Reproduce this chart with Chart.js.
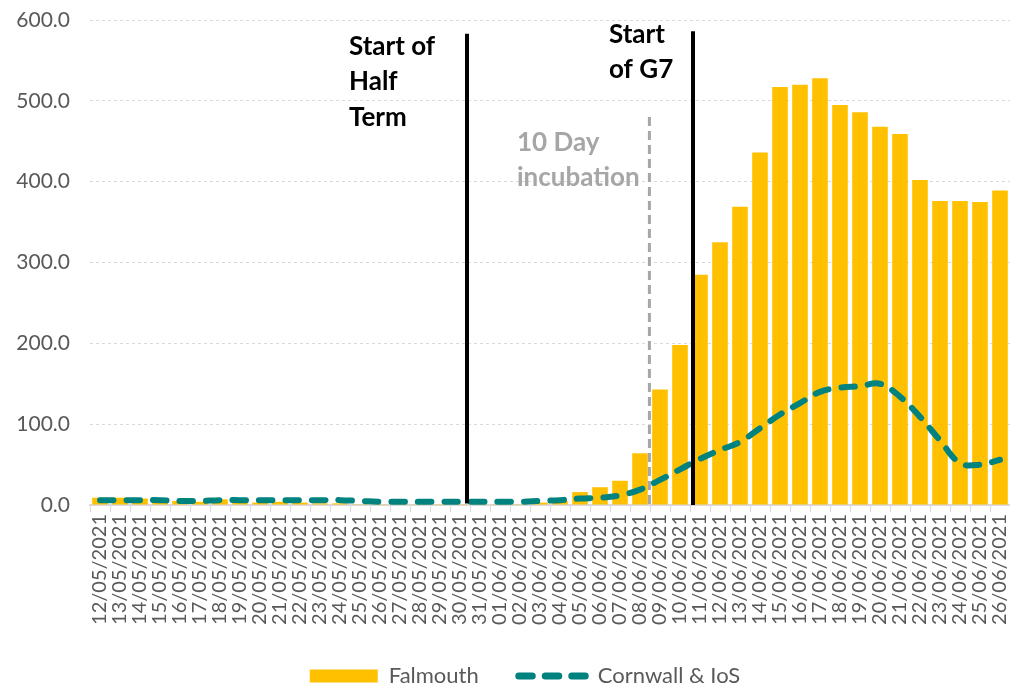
<!DOCTYPE html>
<html>
<head>
<meta charset="utf-8">
<script src="https://cdn.jsdelivr.net/npm/chart.js@4.4.1/dist/chart.umd.min.js"></script>
<style>
  html, body { margin: 0; padding: 0; background: #ffffff; }
  #wrap { width: 1010px; height: 686px; position: relative; }
</style>
</head>
<body>
<div id="wrap"><canvas id="chart"></canvas></div>
<script>
// daily dates on the x axis
const dates = [
  '12/05/2021', '13/05/2021', '14/05/2021', '15/05/2021', '16/05/2021', '17/05/2021',
  '18/05/2021', '19/05/2021', '20/05/2021', '21/05/2021', '22/05/2021', '23/05/2021',
  '24/05/2021', '25/05/2021', '26/05/2021', '27/05/2021', '28/05/2021', '29/05/2021',
  '30/05/2021', '31/05/2021', '01/06/2021', '02/06/2021', '03/06/2021', '04/06/2021',
  '05/06/2021', '06/06/2021', '07/06/2021', '08/06/2021', '09/06/2021', '10/06/2021',
  '11/06/2021', '12/06/2021', '13/06/2021', '14/06/2021', '15/06/2021', '16/06/2021',
  '17/06/2021', '18/06/2021', '19/06/2021', '20/06/2021', '21/06/2021', '22/06/2021',
  '23/06/2021', '24/06/2021', '25/06/2021', '26/06/2021'
];

// rates
const falmouth = [
  9, 9, 8, 8, 5, 4, 7, 4, 3, 4, 3, 2,
  2, 1, 1, 1, 1, 1, 1, 1, 1, 1, 3, 5,
  16, 22, 30, 64, 143, 198, 285, 325, 369, 436, 517, 520,
  528, 495, 486, 468, 459, 402, 376, 376, 375, 389
];
const cornwall = [
  6, 6, 6, 6, 5, 5, 6, 6, 6, 6, 6, 6,
  6, 5, 4, 4, 4, 4, 4, 4, 4, 4, 5, 6,
  8, 9, 12, 19, 31, 44, 57, 68, 78, 95, 112, 126,
  140, 145, 147, 150, 134, 109, 80, 52, 50, 56
];

const yTicks = [0, 100, 200, 300, 400, 500, 600];

// vertical marker lines: x as category index, top/bottom in y values
const markers = [
  { at: 18.35, top: 583, bottom: 2, color: '#000000', width: 4, dash: [] },
  { at: 29.65, top: 586, bottom: 0, color: '#000000', width: 4, dash: [] },
  { at: 27.47, top: 480, bottom: 0, color: '#a6a6a6', width: 3, dash: [9, 5] }
];
const notes = [
  { lines: ['Start of', 'Half', 'Term'], at: 12.45, value: 557, color: '#000000' },
  { lines: ['Start', 'of G7'], at: 25.45, value: 572, color: '#000000' },
  { lines: ['10 Day', 'incubation'], at: 20.85, value: 438, color: '#a6a6a6' }
];

const FONT = "Lato, 'Open Sans', sans-serif";
const TEAL = '#00827f';
const LINE_DASH = [13.5, 13];

const markerPlugin = {
  id: 'markers',
  afterLayout(chart) {
    // nudge the legend row to sit where the original has it
    if (chart.legend) {
      chart.legend.left += 20;
      chart.legend.right += 20;
    }
  },
  afterDatasetsDraw(chart) {
    const ctx = chart.ctx;
    const xs = chart.scales.x, ys = chart.scales.y;
    ctx.save();
    markers.forEach(m => {
      const x = xs.getPixelForValue(m.at);
      ctx.beginPath();
      ctx.strokeStyle = m.color;
      ctx.lineWidth = m.width;
      ctx.setLineDash(m.dash);
      ctx.moveTo(x, ys.getPixelForValue(m.top));
      ctx.lineTo(x, ys.getPixelForValue(m.bottom));
      ctx.stroke();
    });
    ctx.setLineDash([]);
    ctx.font = 'bold 26px ' + FONT;
    ctx.textBaseline = 'alphabetic';
    ctx.textAlign = 'left';
    notes.forEach(n => {
      const x = xs.getPixelForValue(n.at);
      const y = ys.getPixelForValue(n.value);
      ctx.fillStyle = n.color;
      n.lines.forEach((t, i) => ctx.fillText(t, x, y + i * 35.5));
    });
    ctx.restore();
  }
};

new Chart(document.getElementById('chart'), {
  data: {
    labels: dates,
    datasets: [
      {
        type: 'line',
        label: 'Cornwall & IoS',
        data: cornwall,
        borderColor: TEAL,
        backgroundColor: TEAL,
        borderWidth: 6,
        borderDash: LINE_DASH,
        borderCapStyle: 'round',
        tension: 0.4,
        pointRadius: 0,
        pointStyle: 'line',
        order: 1
      },
      {
        type: 'bar',
        label: 'Falmouth',
        data: falmouth,
        backgroundColor: '#ffc000',
        borderWidth: 0,
        barPercentage: 0.78,
        categoryPercentage: 1,
        pointStyle: 'rect',
        order: 2
      }
    ]
  },
  options: {
    responsive: true,
    maintainAspectRatio: false,
    animation: false,
    layout: { padding: { top: 20, right: 0, left: 0, bottom: -11 } },
    plugins: {
      tooltip: { enabled: false },
      legend: {
        position: 'bottom',
        reverse: true,
        labels: {
          usePointStyle: true,
          pointStyleWidth: 68,
          boxHeight: 13,
          padding: 40,
          color: '#595959',
          font: { family: FONT, size: 22 },
          generateLabels(chart) {
            const items = Chart.defaults.plugins.legend.labels.generateLabels(chart);
            items.forEach(it => {
              if (chart.data.datasets[it.datasetIndex].type === 'line') {
                it.lineDash = LINE_DASH;
                it.lineCap = 'round';
                it.lineWidth = 7;
                it.strokeStyle = TEAL;
              }
            });
            return items;
          }
        }
      }
    },
    scales: {
      x: {
        grid: { display: true, drawOnChartArea: false, drawTicks: true, tickLength: 7, color: '#d9d9d9', offset: true },
        border: { display: true, color: '#d9d9d9', width: 2 },
        ticks: {
          autoSkip: false, minRotation: 90, maxRotation: 90, padding: 2,
          color: '#595959', font: { family: FONT, size: 20 }
        },
        afterFit(scale) {
          scale.height = 120;
          scale.paddingLeft = 0;
          scale.paddingRight = 0;
        }
      },
      y: {
        min: 0, max: 600,
        afterBuildTicks(scale) { scale.ticks = yTicks.map(v => ({ value: v })); },
        grid: { color: '#d9d9d9', lineWidth: 1, drawTicks: false },
        border: { display: false, dash: [3, 3] },
        ticks: {
          padding: 20, color: '#595959', font: { family: FONT, size: 21 },
          callback: v => Number(v).toFixed(1)
        },
        afterFit(scale) {
          scale.width = 90;
          scale.paddingTop = 0;
          scale.paddingBottom = 0;
        }
      }
    }
  },
  plugins: [markerPlugin]
});
</script>
</body>
</html>
